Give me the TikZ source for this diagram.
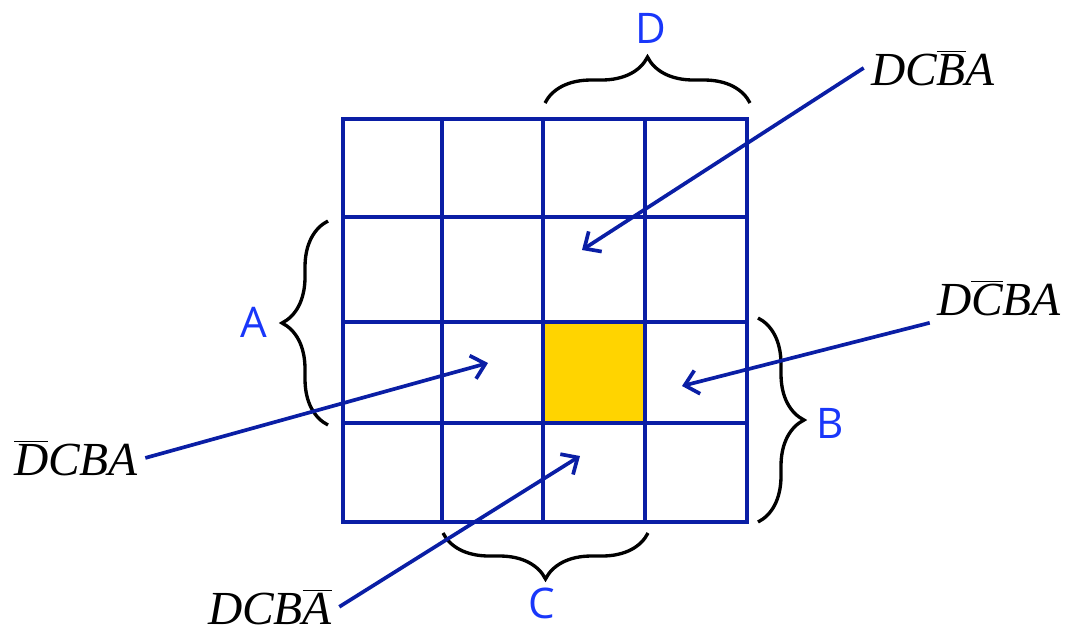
\documentclass[tikz,border=0pt]{standalone}
\usepackage{fontspec}
\setsansfont{Open Sans}
\newfontfamily\tnr{Liberation Serif}
\usetikzlibrary{arrows.meta,decorations.pathreplacing}
\definecolor{kmblue}{RGB}{10,30,165}
\definecolor{kmlabel}{RGB}{25,55,250}
\definecolor{kmgold}{RGB}{255,212,0}
\newcommand{\negl}[1]{$\overline{\hbox{#1}}$}

\begin{document}
\begin{tikzpicture}[x=0.02cm, y=-0.02cm,
    gridline/.style={draw=kmblue, line width=1.9pt, line cap=rect},
    groupbrace/.style={decorate, decoration={brace, amplitude=0.92cm},
                       line width=1.9pt, black},
    varlabel/.style={font=\fontsize{24}{26}\selectfont\sffamily,
                     text=kmlabel, anchor=base},
    term/.style={font=\fontsize{27}{30}\selectfont\tnr\itshape,
                 anchor=base, inner sep=4pt},
    pointer/.style={kmblue, line width=2.1pt,
                    -{Straight Barb[length=2.6mm,width=4.8mm]}}
]
\useasboundingbox (0,0) rectangle (1067,633);

% marked cell
\fill[kmgold] (543,322) rectangle (645,423);

% the 4x4 map
\foreach \x in {343,442,543,645,747}
  \draw[gridline] (\x,119) -- (\x,522);
\foreach \y in {119,217,322,423,522}
  \draw[gridline] (343,\y) -- (747,\y);

% variable groups
\draw[groupbrace] (545,103) -- (750,103);
\draw[groupbrace] (328,425) -- (328,221);
\draw[groupbrace] (758,318) -- (758,522);
\draw[groupbrace] (648,533) -- (443,533);

\node[varlabel] (varD) at (651,43)  {D};
\node[varlabel] (varA) at (254,337) {A};
\node[varlabel] (varB) at (830,438) {B};
\node[varlabel] (varC) at (542,618) {C};

% neighbouring terms
\node[term] (tB) at (933,85)  {DC\negl{B}A};
\node[term] (tD) at (76,475)  {\negl{D}CBA};
\node[term] (tA) at (270,624) {DCB\negl{A}};
\node[term] (tC) at (999,315) {D\negl{C}BA};

\coordinate (cB) at (582,250);
\coordinate (cD) at (488,363);
\coordinate (cA) at (580,456);
\coordinate (cC) at (682,386);

\draw[pointer] (tB.west) -- (cB);
\draw[pointer] (tD.east) -- (cD);
\draw[pointer] (tA.east) -- (cA);
\draw[pointer] (tC.south west) -- (cC);
\end{tikzpicture}
\end{document}
